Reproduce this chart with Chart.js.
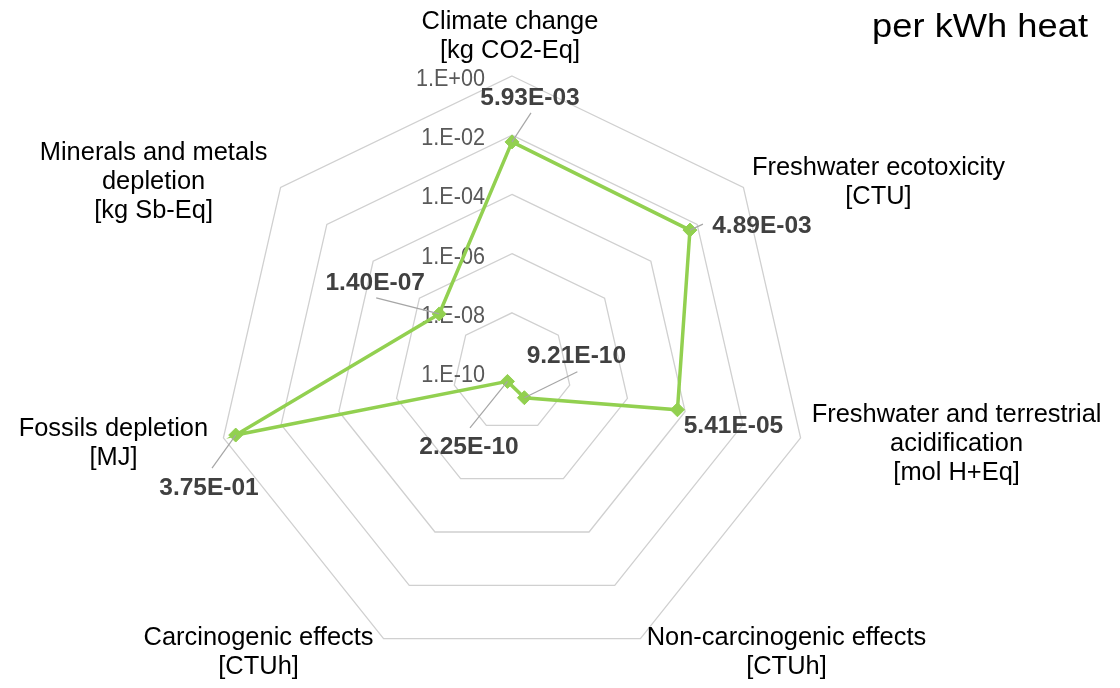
<!DOCTYPE html>
<html><head><meta charset="utf-8">
<script src="https://cdn.jsdelivr.net/npm/chart.js@4.4.1/dist/chart.umd.min.js"></script>
<style>html,body{margin:0;padding:0;background:#fff}#wrap{width:1120px;height:688px;position:relative}</style>
</head><body><div id="wrap"><canvas id="c"></canvas></div>
<script>
// ---- data ----
const categories = [
  ['Climate change', '[kg CO2-Eq]'],
  ['Freshwater ecotoxicity', '[CTU]'],
  ['Freshwater and terrestrial', 'acidification', '[mol H+Eq]'],
  ['Non-carcinogenic effects', '[CTUh]'],
  ['Carcinogenic effects', '[CTUh]'],
  ['Fossils depletion', '[MJ]'],
  ['Minerals and metals', 'depletion', '[kg Sb-Eq]']
];
const values = [5.93e-3, 4.89e-3, 5.41e-5, 9.21e-10, 2.25e-10, 3.75e-1, 1.40e-7];
const tickExponents = [-10, -8, -6, -4, -2, 0];
const tickLabels = ['1.E-10', '1.E-08', '1.E-06', '1.E-04', '1.E-02', '1.E+00'];
const chartTitle = 'per kWh heat';

// ---- layout (text placement relative to library-computed positions) ----
const pointLabelLayout = [
  {dx: -2, dy: -47}, {dx: 135, dy: -12}, {dx: 156, dy: -16},
  {dx: 146, dy: 6}, {dx: -125, dy: 6}, {dx: -110, dy: -2}, {dx: -127, dy: -27}
];
const valueLabelLayout = [
  {dx: 18, dy: -37, leader: [19, -29]},
  {dx: 72, dy: 3, leader: [13, -6]},
  {dx: 56, dy: 23, leader: null},
  {dx: 52, dy: -35, leader: [53, -26]},
  {dx: -38.5, dy: 72.6, leader: [-37.5, 46.6]},
  {dx: -26.7, dy: 60, leader: [-23.7, 33]},
  {dx: -64, dy: -24, leader: [-63, -16]}
];
const FONT = '"Liberation Sans", Arial, sans-serif';

function fmtSci(v) {
  const [m, e] = v.toExponential(2).split('e');
  const n = parseInt(e, 10);
  return m + 'E' + (n < 0 ? '-' : '+') + String(Math.abs(n)).padStart(2, '0');
}
function drawText(ctx, str, x, y, font, color, align, sx) {
  ctx.save();
  ctx.font = font; ctx.fillStyle = color; ctx.textAlign = align; ctx.textBaseline = 'alphabetic';
  ctx.translate(x, y); ctx.scale(sx, 1);
  ctx.fillText(str, 0, 0);
  ctx.restore();
}

const textPlugin = {
  id: 'textPlugin',
  beforeDatasetsDraw(chart) {
    const ctx = chart.ctx, s = chart.scales.r;
    tickExponents.forEach((e, i) => {
      const y = s.yCenter - s.getDistanceFromCenterForValue(e);
      drawText(ctx, tickLabels[i], s.xCenter - 27, y + 10, '24px ' + FONT, '#595959', 'right', 0.9);
    });
  },
  afterDatasetsDraw(chart) {
    const ctx = chart.ctx, s = chart.scales.r;
    const meta = chart.getDatasetMeta(0);
    // leader lines
    ctx.save();
    ctx.strokeStyle = '#a6a6a6'; ctx.lineWidth = 1.2;
    meta.data.forEach((pt, i) => {
      const L = valueLabelLayout[i];
      if (!L.leader) return;
      ctx.beginPath();
      ctx.moveTo(pt.x + L.leader[0], pt.y + L.leader[1]);
      ctx.lineTo(pt.x, pt.y);
      ctx.stroke();
    });
    ctx.restore();
    meta.data.forEach((pt, i) => {
      const L = valueLabelLayout[i];
      drawText(ctx, fmtSci(values[i]), pt.x + L.dx, pt.y + L.dy, 'bold 24.5px ' + FONT, '#404040', 'center', 1);
    });
    // point labels
    categories.forEach((lines, i) => {
      const p = s.getPointPosition(i, s.drawingArea);
      const L = pointLabelLayout[i];
      lines.forEach((ln, k) => {
        drawText(ctx, ln, p.x + L.dx, p.y + L.dy + k * 29, '26.5px ' + FONT, '#000000', 'center', 0.96);
      });
    });
    // title
    drawText(ctx, chartTitle, chart.width - 32, 37, '33px ' + FONT, '#000000', 'right', 1.1);
  }
};

new Chart(document.getElementById('c'), {
  type: 'radar',
  data: {
    labels: categories,
    datasets: [{
      data: values.map(v => Math.log10(v)),
      borderColor: '#92d050',
      backgroundColor: '#92d050',
      borderWidth: 3.5,
      fill: false,
      tension: 0,
      pointStyle: 'rectRot',
      pointRadius: 7,
      pointBackgroundColor: '#92d050',
      pointBorderColor: '#92d050',
      pointBorderWidth: 1
    }]
  },
  options: {
    responsive: true,
    maintainAspectRatio: false,
    animation: false,
    layout: {padding: {left: 216, right: 312, top: 76, bottom: 20}},
    plugins: {legend: {display: false}, tooltip: {enabled: false}, title: {display: false}},
    scales: {
      r: {
        min: -10, max: 0,
        ticks: {display: false, stepSize: 2},
        grid: {color: '#d0d0d0', lineWidth: 1.3},
        angleLines: {display: false},
        pointLabels: {display: false}
      }
    }
  },
  plugins: [textPlugin]
});
</script>
</body></html>
